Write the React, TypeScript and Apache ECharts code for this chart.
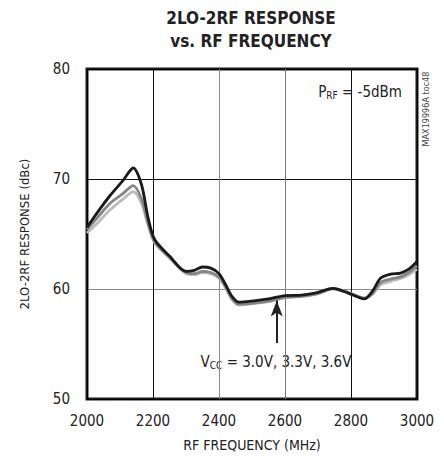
import React, { useEffect, useRef } from "react";
import * as echarts from "echarts";

const freqMHz = [2000, 2035, 2070, 2110, 2140, 2165, 2185, 2205, 2250, 2300, 2325, 2350, 2375, 2400, 2420, 2440, 2460, 2500, 2550, 2600, 2650, 2700, 2745, 2790, 2840, 2865, 2890, 2920, 2950, 2975, 3000];
const vcc30 = [65.6, 67.1, 68.5, 69.9, 71.0, 69.5, 66.5, 64.5, 63.0, 61.6, 61.7, 62.0, 61.9, 61.4, 60.4, 59.3, 58.8, 58.9, 59.1, 59.4, 59.45, 59.7, 60.05, 59.65, 59.1, 59.8, 61.0, 61.35, 61.45, 61.8, 62.5];
const vcc33 = [65.4, 66.6, 67.8, 68.7, 69.4, 68.2, 66.0, 64.3, 62.9, 61.5, 61.4, 61.6, 61.5, 61.1, 60.2, 59.1, 58.6, 58.7, 58.9, 59.25, 59.35, 59.6, 60.05, 59.7, 59.15, 59.6, 60.6, 60.9, 61.1, 61.5, 62.1];
const vcc36 = [65.1, 66.1, 67.2, 68.2, 68.85, 67.8, 65.8, 64.2, 62.8, 61.4, 61.3, 61.5, 61.4, 61.0, 60.1, 59.0, 58.55, 58.65, 58.85, 59.2, 59.3, 59.55, 60.0, 59.7, 59.2, 59.5, 60.4, 60.7, 60.95, 61.3, 61.8];
const xTicks = [2000, 2200, 2400, 2600, 2800, 3000];
const yTicks = [50, 60, 70, 80];
const arrowFreq = 2575;
const arrowFrom = 55.1;
const arrowTo = 58.95;

const FONT = "'DejaVu Sans Condensed', 'Liberation Sans', sans-serif";

export default function App() {
  const ref = useRef<HTMLDivElement>(null);
  useEffect(() => {
    if (!ref.current) return;
    const chart = echarts.init(ref.current, null, { renderer: "svg" });
    const pair = (vals: number[]) => freqMHz.map((f, i) => [f, vals[i]]);
    chart.setOption({
      animation: false,
      backgroundColor: "#fff",
      grid: { left: 87, right: 27, top: 69, bottom: 60, show: true, borderColor: "#1a1a1a", borderWidth: 3, backgroundColor: "transparent" },
      xAxis: {
        type: "value", min: xTicks[0], max: xTicks[xTicks.length - 1], interval: 200,
        axisLine: { show: false }, axisTick: { show: false },
        axisLabel: { fontFamily: FONT, fontSize: 15, color: "#222", margin: 14, formatter: (v: number) => String(v) },
        splitLine: { show: true, lineStyle: { width: 1, color: ["#000", "#111", "#8a8a8a", "#777", "#111", "#000"] } },
        name: "RF FREQUENCY (MHz)", nameLocation: "middle", nameGap: 39,
        nameTextStyle: { fontFamily: FONT, fontSize: 14, color: "#222" },
      },
      yAxis: {
        type: "value", min: yTicks[0], max: yTicks[yTicks.length - 1], interval: 10,
        axisLine: { show: false }, axisTick: { show: false },
        axisLabel: { fontFamily: FONT, fontSize: 15, color: "#222", margin: 17 },
        splitLine: { show: true, lineStyle: { width: 1, color: ["#000", "#8a8a8a", "#111", "#000"] } },
        name: "2LO-2RF RESPONSE (dBc)", nameLocation: "middle", nameGap: 56,
        nameTextStyle: { fontFamily: FONT, fontSize: 13, color: "#222" },
      },
      series: [
        { type: "line", name: "3.6V", data: pair(vcc36), showSymbol: false, smooth: 0.3, lineStyle: { color: "#bcbcbc", width: 2.8 } },
        { type: "line", name: "3.3V", data: pair(vcc33), showSymbol: false, smooth: 0.3, lineStyle: { color: "#858585", width: 2.8 } },
        {
          type: "line", name: "3.0V", data: pair(vcc30), showSymbol: false, smooth: 0.3, lineStyle: { color: "#1a1a1a", width: 2.8 },
          markLine: {
            silent: true, symbol: ["none", "arrow"], symbolSize: [9, 16],
            lineStyle: { color: "#222", width: 2, type: "solid" }, label: { show: false },
            data: [[{ coord: [arrowFreq, arrowFrom] }, { coord: [arrowFreq, arrowTo] }]],
          },
        },
      ],
      graphic: [
        { type: "text", x: 251, y: 29, style: { text: "2LO-2RF RESPONSE\nvs. RF FREQUENCY", font: `bold 17px ${FONT}`, fill: "#222", align: "center", verticalAlign: "middle", lineHeight: 23 } },
        {
          type: "text", x: 402, y: 92,
          style: {
            text: "P{s|RF} = -5dBm", align: "right", verticalAlign: "middle", fill: "#222", font: `15px ${FONT}`,
            rich: { s: { fontFamily: FONT, fontSize: 10, padding: [7, 0, 0, 0], fill: "#222" } },
          },
        },
        {
          type: "text", x: 276, y: 362,
          style: {
            text: "V{s|CC} = 3.0V, 3.3V, 3.6V", align: "center", verticalAlign: "middle", fill: "#222", font: `15px ${FONT}`,
            rich: { s: { fontFamily: FONT, fontSize: 10, padding: [7, 0, 0, 0], fill: "#222" } },
          },
        },
        { type: "text", x: 426, y: 109, rotation: Math.PI / 2, style: { text: "MAX19996A toc48", font: `9px ${FONT}`, fill: "#444", align: "center", verticalAlign: "middle" } },
      ],
    });
    return () => chart.dispose();
  }, []);
  return <div ref={ref} style={{ position: "fixed", left: 0, top: 0, width: 444, height: 459 }} />;
}
